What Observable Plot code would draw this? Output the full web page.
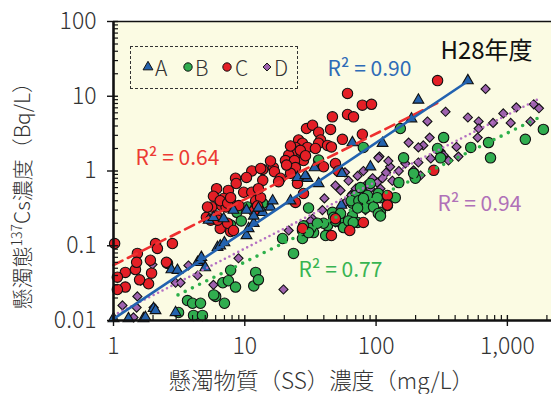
<!DOCTYPE html>
<html><head><meta charset="utf-8">
<script src="https://cdn.jsdelivr.net/npm/d3@7"></script>
<script src="https://cdn.jsdelivr.net/npm/@observablehq/plot@0.6"></script>
<style>
body{margin:0;background:#fff;}
#wrap{position:relative;width:551px;height:394px;font-family:"Noto Sans CJK JP",sans-serif;}
#legend{position:absolute;left:130px;top:46px;width:168px;height:43px;border:1px dashed #333;box-sizing:border-box;}
#legend .it{position:absolute;top:0;height:41px;line-height:41px;font-size:21px;font-weight:300;color:#333;}
#legend svg{position:absolute;}
</style></head><body><div id="wrap"></div>
<script>
// ---- data (SS mg/L, 137Cs Bq/L) ----
const seriesA = [[1.0,0.0106],[1.30,0.0106],[1.69,0.0106],[1.75,0.011],[2.02,0.0145],[2.09,0.0136],[2.76,0.048],[2.97,0.0128],[3.07,0.047],[4.37,0.060],[4.6,0.064],[5.0,0.051],[4.67,0.070],[6.2,0.095],[6.5,0.10],[7.0,0.11],[10.3,0.137],[10.7,0.17],[11.7,0.20],[13.7,0.28],[15.7,0.33],[5.3,0.22],[5.77,0.24],[6.9,0.23],[8.2,0.30],[11.7,0.25],[10.3,0.30],[12.7,0.32],[16.3,0.40],[22.3,0.40],[25.2,0.82],[30,0.80],[36.5,0.68],[28.9,0.87],[34,1.11],[55,0.93],[66,2.4],[90.5,1.14],[54.5,0.35],[112,2.35],[186,5.0],[210,8.9],[500,16.2]];
const seriesB = [[3.13,0.0128],[3.66,0.0185],[4.0,0.017],[4.6,0.017],[4.07,0.0117],[4.76,0.0117],[6.0,0.021],[7.0,0.017],[6.8,0.032],[7.5,0.034],[8.5,0.028],[7.8,0.047],[12.1,0.044],[11.7,0.029],[12.7,0.035],[5.8,0.022],[30.6,0.32],[19.4,0.125],[23.5,0.079],[27.5,0.125],[41.3,0.137],[42.7,0.187],[51.9,0.24],[53.6,0.205],[66,0.25],[66,0.37],[69.8,0.47],[78.6,0.40],[87.6,0.38],[83,0.32],[108,0.28],[108,0.44],[122,0.345],[46.5,0.28],[33.4,0.15],[29,0.17],[27.5,0.16],[31.7,0.17],[39.8,0.20],[49,0.215],[53.6,0.27],[56.5,0.175],[61.7,0.215],[72.3,0.205],[64.6,0.40],[73.9,0.40],[95.6,0.33],[104,0.27],[76,0.60],[90.5,0.68],[104,0.50],[86,0.47],[28,0.185],[30.6,0.15],[35.7,0.20],[47.5,0.24],[67,0.205],[72.3,0.32],[80,0.43],[102,0.44],[108,0.25],[124,0.44],[140,0.44],[327,2.8],[526,2.07],[718,2.4],[744,1.5],[1370,2.65],[1880,3.6],[153,3.7],[80,2.07],[294,2.0],[310,1.5],[199,0.80],[36.5,1.4],[162,1.5],[193,0.93],[149,0.70],[8.7,0.28],[9.4,0.215],[10.5,0.33],[13.7,0.37],[7.8,0.19]];
const seriesC = [[1.02,0.107],[2.09,0.107],[2.81,0.107],[2.16,0.092],[2.58,0.058],[1.52,0.079],[1.47,0.048],[1.23,0.044],[1.07,0.038],[1.95,0.043],[1.85,0.031],[1.58,0.035],[1.23,0.028],[1.07,0.026],[1.5,0.06],[1.91,0.064],[2.53,0.06],[11.3,1.0],[8.5,0.80],[8.6,0.68],[10.3,0.82],[6.1,0.58],[7.5,0.55],[9.8,0.52],[11.3,0.52],[12.1,0.40],[5.77,0.46],[6.9,0.43],[7.8,0.38],[6.65,0.345],[5.6,0.33],[7.2,0.33],[9.0,0.345],[5.1,0.24],[6.1,0.25],[13.7,1.05],[16.5,1.11],[13.7,0.75],[13.2,0.44],[12.1,0.32],[5.5,0.22],[6.5,0.17],[7.8,0.155],[6.5,0.40],[7.4,0.37],[7.8,0.44],[5.2,0.33],[6.2,0.22],[7.4,0.20],[8.2,0.16],[11.7,0.29],[12.5,0.34],[60.6,10.9],[78.6,7.6],[92.3,7.8],[46.5,5.3],[60.6,5.7],[67.3,5.3],[29.5,3.7],[32.8,4.1],[36.5,3.3],[45,3.6],[55.4,2.65],[78.6,3.1],[37.8,2.6],[36.5,2.35],[42.7,2.2],[45.7,2.1],[25.7,2.6],[27.5,2.35],[24.3,2.07],[30,2.07],[25.2,1.78],[23.1,1.78],[21.6,1.63],[28,1.38],[20.4,1.38],[23.9,1.38],[24.3,1.11],[16.8,0.98],[18.7,0.80],[39.8,1.14],[22.3,0.93],[26.5,1.89],[22.3,2.16],[29,1.6],[20.8,1.2],[15.7,1.36],[34.5,2.0],[49,1.26],[51.5,1.0],[13.2,1.08],[294,16.2],[27.5,0.17],[45.7,0.137],[63,0.16],[80,0.205],[49,0.23],[18.1,0.72],[25.2,0.68],[12.7,0.58],[24.3,0.38],[28,0.50],[122,0.47],[275,1.02],[122,0.35]];
const seriesD = [[1.17,0.0159],[1.42,0.011],[1.52,0.021],[1.5,0.0149],[2.02,0.0149],[1.98,0.056],[1.61,0.034],[2.97,0.032],[3.24,0.032],[3.72,0.0545],[4.37,0.040],[5.77,0.030],[8.95,0.068],[682,12.5],[338,6.2],[246,4.6],[500,5.2],[604,4.6],[604,3.7],[778,4.4],[931,5.9],[1060,4.4],[1170,7.1],[1590,7.8],[1740,6.9],[1500,4.6],[594,2.8],[177,2.4],[256,2.8],[229,2.2],[210,2.07],[410,2.1],[424,1.56],[261,1.47],[310,1.84],[327,1.63],[210,1.3],[167,1.26],[193,1.02],[218,0.87],[356,1.38],[106,1.56],[128,1.14],[49,0.64],[40.4,0.43],[39,0.30],[32.8,0.23],[33.4,0.187],[21.6,0.16],[66,0.50],[70,0.58],[83,0.64],[90.5,0.58],[102,0.70],[112,0.80],[133,0.74],[75,0.33],[49,0.205],[58.5,0.38],[31.7,0.215],[64.6,0.47],[108,0.58],[83,0.30],[53.6,0.55],[61.7,0.74],[72.3,0.86],[80,1.0],[94,0.80],[119,0.95],[149,1.0],[58,0.96],[19.7,0.026],[104,1.5],[124,1.36]];
// fitted regression lines (end points)
const fitA = [[1,0.0105],[490,15.5]];
const fitB = [[3.1,0.022],[1860,5.5]];
const fitC = [[1,0.055],[300,8.3]];
const fitD = [[1,0.0117],[1690,9.0]];
const r2Labels = ["R² = 0.90","R² = 0.77","R² = 0.64","R² = 0.94"];
const yearLabel = "H28年度";
const xTicks = [1,10,100,1000];
const xMinor = [2,3,4,5,6,7,8,9,20,30,40,50,60,70,80,90,200,300,400,500,600,700,800,900,2000];
const yTicks = [0.01,0.1,1,10,100];
const yMinor = [0.02,0.03,0.04,0.05,0.06,0.07,0.08,0.09,0.2,0.3,0.4,0.5,0.6,0.7,0.8,0.9,2,3,4,5,6,7,8,9,20,30,40,50,60,70,80,90];
const xTitle = "懸濁物質（SS）濃度（mg/L）";
const yTitle = "懸濁態137Cs濃度（Bq/L）";
const legendNames = ["A","B","C","D"];

const FONT = '"Noto Sans CJK JP", sans-serif';
const fill = {A:"#2462ad", B:"#30ad4f", C:"#e41f26", D:"#9e62ae"};
const toObj = a => a.map(([x,y]) => ({x,y}));
const W = 551, H = 394, ML = 113, MT = 21, MB = 74;
const iw = W - ML, ih = H - MT - MB;

const dotOpts = (s, sym, r) => ({x:"x", y:"y", symbol: sym, r, fill: fill[s], stroke:"#111", strokeWidth:1.1});
const label = (t, color, left, cy) => Plot.text([t], {frameAnchor:"top-left", dx:left-ML, dy:cy-MT, textAnchor:"start", lineAnchor:"middle", fill:color, fontSize:21, fontWeight:400, fontFamily:FONT});

const chart = Plot.plot({
  width:W, height:H, marginLeft:ML, marginRight:0, marginTop:MT, marginBottom:MB,
  style:{fontFamily:FONT, background:"white", overflow:"visible"},
  x:{type:"log", domain:[1,2168]},
  y:{type:"log", domain:[0.01,100]},
  marks:[
    Plot.frame({fill:"#fbfbe3", stroke:null}),
    Plot.dot(toObj(seriesD), dotOpts("D","diamond2",4.1)),
    Plot.dot(toObj(seriesB), dotOpts("B","circle",5.2)),
    Plot.dot(toObj(seriesC), dotOpts("C","circle",5.2)),
    Plot.dot(toObj(seriesA), dotOpts("A","triangle",4.0)),
    Plot.line(toObj(fitD), {x:"x", y:"y", stroke:"#b46fc2", strokeWidth:2.6, strokeDasharray:"0,5", strokeLinecap:"round"}),
    Plot.line(toObj(fitB), {x:"x", y:"y", stroke:"#2db04a", strokeWidth:3.6, strokeDasharray:"0,8", strokeLinecap:"round"}),
    Plot.line(toObj(fitC), {x:"x", y:"y", stroke:"#ee2f2f", strokeWidth:2.6, strokeDasharray:"10,6"}),
    Plot.line(toObj(fitA), {x:"x", y:"y", stroke:"#2262b0", strokeWidth:2.6}),
    label(r2Labels[0], "#2e6bb7", 327, 69),
    label(r2Labels[1], "#38b452", 298, 270),
    label(r2Labels[2], "#ec3a33", 135, 158),
    label(r2Labels[3], "#b071b8", 437, 204),
    Plot.text([yearLabel], {frameAnchor:"top-left", dx:440-ML, dy:51-MT, textAnchor:"start", lineAnchor:"middle", fill:"#111", fontSize:24, fontWeight:400, fontFamily:FONT}),
    Plot.ruleY([100], {stroke:"#111", strokeWidth:1.3}),
    Plot.ruleX([1], {stroke:"#111", strokeWidth:2.6}),
    Plot.ruleY([0.01], {stroke:"#111", strokeWidth:2.6}),
    Plot.tickX(xTicks, {x:d=>d, insetTop:ih-5, insetBottom:-6, stroke:"#111", strokeWidth:1.4}),
    Plot.tickX(xMinor, {x:d=>d, insetTop:ih-5, insetBottom:0, stroke:"#111", strokeWidth:1.2}),
    Plot.tickY(yTicks, {y:d=>d, insetLeft:-6, insetRight:iw-5, stroke:"#111", strokeWidth:1.4}),
    Plot.tickY(yMinor, {y:d=>d, insetLeft:0, insetRight:iw-5, stroke:"#111", strokeWidth:1.2}),
    Plot.axisX({ticks:xTicks, tickSize:0, tickPadding:17, tickFormat:d3.format(","), fontSize:23, fontWeight:300, fill:"#333", fontFamily:FONT, label:null}),
    Plot.axisY({ticks:yTicks, tickSize:0, tickPadding:17, tickFormat:d=>String(d), fontSize:23, fontWeight:300, fill:"#333", fontFamily:FONT, label:null}),
    Plot.text([xTitle], {frameAnchor:"bottom-left", dx:168-ML, dy:381-(H-MB), textAnchor:"start", lineAnchor:"middle", fill:"#333", fontSize:22.5, fontWeight:300, fontFamily:FONT}),
    Plot.text([yTitle], {frameAnchor:"bottom-left", dx:23-ML, dy:309-(H-MB), rotate:-90, textAnchor:"start", lineAnchor:"middle", fill:"#333", fontSize:21, fontWeight:300, fontFamily:FONT})
  ]
});
const wrap = document.getElementById("wrap");
wrap.appendChild(chart);
// superscript 137 in the y title
d3.select(chart).selectAll("text").each(function(){
  const t = d3.select(this);
  if (t.text() === yTitle) {
    t.text(null);
    t.append("tspan").text("懸濁態");
    t.append("tspan").attr("font-size", 14).attr("dy", -8).text("137");
    t.append("tspan").attr("dy", 8).text("Cs濃度（Bq/L）");
  }
});
// legend
const lg = document.createElement("div");
lg.id = "legend";
const symPos = [17, 57, 96, 136];
const txtPos = [24, 64, 104, 143];
const shapes = ["triangle","circle","circle","diamond2"];
const syms = {triangle:d3.symbolTriangle, circle:d3.symbolCircle, diamond2:d3.symbolDiamond2};
legendNames.forEach((n,i) => {
  const s = document.createElementNS("http://www.w3.org/2000/svg","svg");
  s.setAttribute("width",14); s.setAttribute("height",14);
  s.style.left = (symPos[i]-7)+"px"; s.style.top = (21-7-1)+"px";
  const p = document.createElementNS("http://www.w3.org/2000/svg","path");
  const sz = shapes[i]==="triangle" ? 42 : (shapes[i]==="circle" ? 55 : 40);
  p.setAttribute("d", d3.symbol(syms[shapes[i]], sz)());
  p.setAttribute("transform","translate(7,7)");
  p.setAttribute("fill", fill[n]); p.setAttribute("stroke","#111"); p.setAttribute("stroke-width",1);
  s.appendChild(p); lg.appendChild(s);
  const t = document.createElement("span");
  t.className = "it"; t.style.left = txtPos[i]+"px"; t.textContent = n;
  lg.appendChild(t);
});
wrap.appendChild(lg);
</script></body></html>
